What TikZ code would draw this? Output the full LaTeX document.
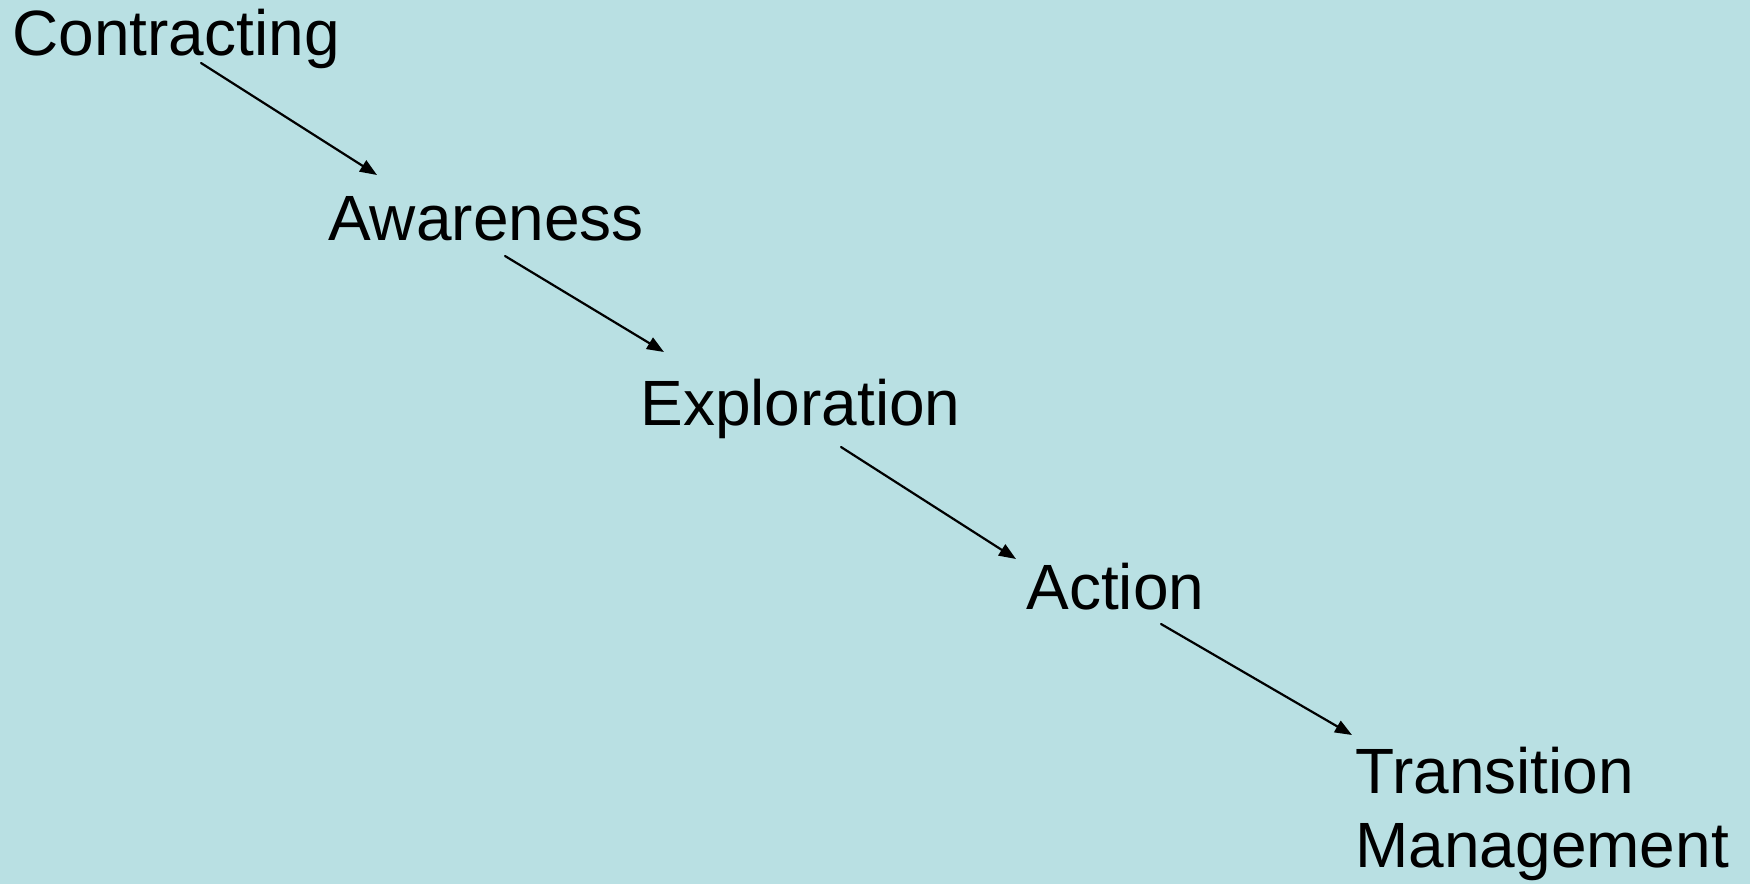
\documentclass[tikz,border=0pt]{standalone}
\usepackage{fontspec}
\setmainfont{Liberation Sans}
\usetikzlibrary{arrows.meta}
\definecolor{bgcyan}{RGB}{185,224,227}
\begin{document}
\begin{tikzpicture}[x=0.5pt, y=-0.5pt, line join=round, line cap=round, >={Triangle[length=8.5pt,width=6.5pt]},
		stage/.style={anchor=base west, inner sep=0pt, align=left, font=\fontsize{32}{37}\selectfont},
		flow/.style={->, line width=1.1pt}]
			\fill[bgcyan] (0,0) rectangle (1750,884);
			\useasboundingbox (0,0) rectangle (1750,884);
			\node[stage] (contract) at (12,55) {Contracting};
			\node[stage] (aware) at (328,240) {Awareness};
			\node[stage] (explor) at (640,425) {Exploration};
			\node[stage] (action) at (1026,609) {Action};
			\node[stage] (trans) at (1355,867) {Transition\\Management};
			\draw[flow] ([shift={(189,8)}]contract.base west) -- ([shift={(49,-65)}]aware.base west);
			\draw[flow] ([shift={(177,16)}]aware.base west) -- ([shift={(24,-73)}]explor.base west);
			\draw[flow] ([shift={(201,22)}]explor.base west) -- ([shift={(-10,-50)}]action.base west);
			\draw[flow] ([shift={(135,15)}]action.base west) -- ([shift={(-3,-132)}]trans.base west);
		\end{tikzpicture}
\end{document}
